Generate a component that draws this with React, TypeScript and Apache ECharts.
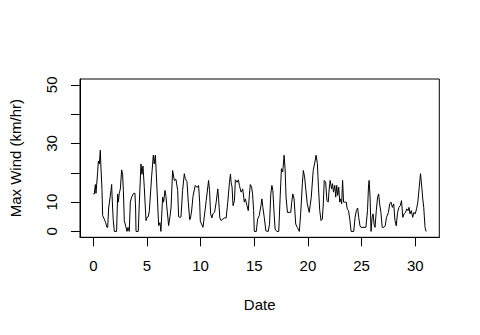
import React, { useEffect, useRef } from "react";
import * as echarts from "echarts";

// Date (days) and Max Wind (km/hr) values
const times = [
  0.0, 0.09, 0.19, 0.25, 0.4, 0.47, 0.56, 0.65, 0.71, 0.81, 0.87, 1.02, 1.15, 1.27, 1.34, 1.43, 1.58, 1.65, 1.71, 1.74,
  1.8, 1.86, 1.96, 2.17, 2.27, 2.33, 2.42, 2.52, 2.64, 2.73, 2.8, 2.89, 3.04, 3.14, 3.23, 3.35, 3.45, 3.57, 3.76, 3.88,
  3.94, 3.98, 4.19, 4.29, 4.44, 4.53, 4.63, 4.75, 4.91, 5.0, 5.12, 5.22, 5.43, 5.59, 5.68, 5.78, 5.84, 5.99, 6.09, 6.21,
  6.3, 6.46, 6.55, 6.68, 6.77, 6.86, 7.02, 7.14, 7.24, 7.39, 7.55, 7.7, 7.86, 7.95, 8.07, 8.17, 8.32, 8.48, 8.57, 8.73,
  8.85, 8.98, 9.04, 9.16, 9.29, 9.5, 9.66, 9.81, 9.91, 9.97, 10.22, 10.52, 10.74, 10.83, 10.93, 11.05, 11.14, 11.3, 11.45, 11.6,
  11.67, 11.79, 11.91, 12.07, 12.22, 12.38, 12.53, 12.69, 12.78, 12.84, 12.93, 13.02, 13.15, 13.24, 13.4, 13.52, 13.61, 13.77, 13.92, 14.07,
  14.17, 14.32, 14.44, 14.54, 14.63, 14.75, 14.84, 14.94, 15.0, 15.19, 15.31, 15.46, 15.62, 15.71, 15.8, 15.93, 16.08, 16.3, 16.42, 16.54,
  16.64, 16.73, 16.85, 16.94, 17.1, 17.28, 17.41, 17.53, 17.65, 17.78, 17.87, 17.96, 18.09, 18.24, 18.4, 18.49, 18.59, 18.71, 18.86, 19.01,
  19.2, 19.32, 19.48, 19.57, 19.69, 19.81, 19.94, 20.12, 20.31, 20.49, 20.65, 20.76, 20.88, 20.98, 21.1, 21.22, 21.34, 21.43, 21.52, 21.65,
  21.77, 21.89, 21.98, 22.07, 22.2, 22.29, 22.38, 22.5, 22.59, 22.68, 22.77, 22.87, 22.96, 23.05, 23.14, 23.23, 23.32, 23.41, 23.57, 23.66,
  23.78, 23.9, 24.02, 24.27, 24.39, 24.51, 24.63, 24.73, 24.85, 24.94, 25.4, 25.55, 25.64, 25.7, 25.79, 25.88, 25.98, 26.07, 26.16, 26.25,
  26.37, 26.49, 26.59, 26.68, 26.8, 26.92, 27.07, 27.2, 27.32, 27.5, 27.62, 27.74, 27.87, 27.99, 28.11, 28.23, 28.35, 28.48, 28.6, 28.72,
  28.84, 28.96, 29.09, 29.21, 29.33, 29.42, 29.51, 29.63, 29.76, 29.88, 30.0, 30.12, 30.24, 30.37, 30.49, 30.61, 30.7, 30.79, 30.91, 31.01,
];
const winds = [
  12.8, 12.8, 16, 13, 20, 24, 23, 27.7, 22, 14, 5.4, 4.2, 3, 1.4, 1.4, 8, 12, 14, 16, 13,
  8, 3.7, 0, 0, 12.8, 10, 13, 14.5, 21, 19.5, 14, 3.7, 1.5, 0, 1.4, 0, 10, 11.7, 13, 13,
  8, 0, 0, 10, 23, 19.5, 22.3, 15, 3.7, 4.8, 5, 7, 18.5, 26, 23, 26, 22, 10, 2, 3,
  0, 11.7, 10, 14, 12, 8, 2, 5, 8, 20.8, 17.4, 17.8, 14, 5, 4.8, 5, 14, 19.7, 18, 17,
  10, 4, 4.2, 7, 12, 15.7, 15, 15.7, 10, 3.5, 1.4, 10.5, 17.4, 14, 6, 4.6, 6, 6.5, 10, 14.5,
  11.3, 4.6, 3.7, 4.2, 4.6, 4.6, 10, 16.8, 19.5, 16.8, 15.1, 8.8, 10.5, 17.6, 16.8, 17.6, 15.7, 13.4, 14.5, 10,
  11.1, 8.8, 7.1, 12.3, 16, 15.1, 12.8, 7.1, 0, 0, 4.2, 5.4, 8.8, 11.1, 8.2, 4.8, 0.2, 0, 2.5, 12.8,
  15.7, 14, 6, 0.8, 0, 0, 11.7, 21.4, 20.3, 26, 21.4, 11.7, 6.5, 6.5, 6.5, 10, 12.8, 11.1, 2.5, 1.4,
  0, 6, 16.3, 20.8, 18.6, 14, 9.4, 6.5, 11.7, 20.8, 23.7, 26, 23.1, 15.1, 7.1, 3.7, 4.2, 9.4, 17.4, 16.8,
  10.5, 10, 14.5, 17.4, 14.5, 16.3, 13.4, 15.7, 11.7, 15.7, 12.3, 15.1, 10, 11.1, 9.4, 17.4, 10, 10, 10, 7.7,
  7.1, 4.2, 0, 0, 4.8, 7.1, 8, 4.8, 1.9, 1.4, 1.4, 7.1, 15.1, 17.4, 11.7, 0, 4.8, 6, 2.5, 1.4,
  7.1, 11.7, 12.8, 9.4, 6.5, 1.4, 1.4, 1.9, 4.8, 6.5, 9.4, 10, 8.2, 9.4, 3.7, 1.9, 6.5, 8.2, 8.8, 10.5,
  4.8, 6, 6.5, 7.7, 7.1, 8.2, 6, 7.1, 4.8, 6.5, 6, 7.7, 10, 15.1, 19.7, 15.1, 11.1, 8.2, 1.4, 0,
];
const xTicks = [0, 5, 10, 15, 20, 25, 30];
const yTicks = [0, 10, 20, 30, 40, 50];
const yLabels = [0, 10, 30, 50];

export default function App() {
  const ref = useRef<HTMLDivElement>(null);
  useEffect(() => {
    if (!ref.current) return;
    const chart = echarts.init(ref.current, null, { renderer: "svg" });
    const font = "'Liberation Sans', Arial, sans-serif";
    chart.setOption({
      animation: false,
      backgroundColor: "#ffffff",
      grid: {
        left: 78.7,
        right: 40.7,
        top: 79,
        bottom: 97.7,
        show: true,
        borderColor: "#000",
        borderWidth: 1,
        backgroundColor: "transparent",
      },
      xAxis: {
        type: "value",
        min: -1.24,
        max: 32.24,
        name: "Date",
        nameLocation: "middle",
        nameGap: 60,
        nameTextStyle: { color: "#000", fontFamily: font, fontSize: 15 },
        axisLine: { show: true, onZero: false, lineStyle: { color: "#000", width: 1 } },
        axisTick: { show: true, customValues: xTicks, length: 9, lineStyle: { color: "#000" } },
        axisLabel: { customValues: xTicks, margin: 21, color: "#000", fontFamily: font, fontSize: 15 },
        splitLine: { show: false },
      },
      yAxis: {
        type: "value",
        min: -2,
        max: 52,
        name: "Max Wind (km/hr)",
        nameLocation: "middle",
        nameGap: 57,
        nameTextStyle: { color: "#000", fontFamily: font, fontSize: 15 },
        axisLine: { show: true, onZero: false, lineStyle: { color: "#000", width: 1 } },
        axisTick: { show: true, customValues: yTicks, length: 9, lineStyle: { color: "#000" } },
        axisLabel: { customValues: yLabels, rotate: 90, margin: 21, color: "#000", fontFamily: font, fontSize: 15 },
        splitLine: { show: false },
      },
      series: [
        {
          type: "line",
          data: times.map((t, i) => [t, winds[i]]),
          showSymbol: false,
          lineStyle: { color: "#000", width: 1 },
        },
      ],
    });
    return () => chart.dispose();
  }, []);
  return (
    <div
      ref={ref}
      style={{ position: "absolute", left: 0, top: 0, width: 480, height: 335, background: "#fff" }}
    />
  );
}
